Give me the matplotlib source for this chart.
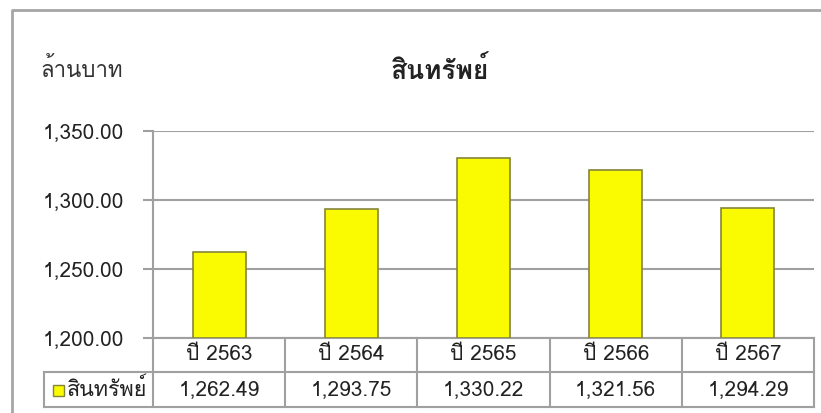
import matplotlib
matplotlib.use('Agg')
import numpy as np
import matplotlib.pyplot as plt
from matplotlib import font_manager, ft2font

# data
years = ['ปี 2563', 'ปี 2564', 'ปี 2565', 'ปี 2566', 'ปี 2567']
assets = [1262.49, 1293.75, 1330.22, 1321.56, 1294.29]
series_name = 'สินทรัพย์'
unit_label = 'ล้านบาท'
y_ticks = [1200, 1250, 1300, 1350]

# pick an installed font that has thai glyphs, if any
thai_family = None
for f in font_manager.fontManager.ttflist:
    try:
        if 0x0E2A in ft2font.FT2Font(f.fname).get_charmap():
            thai_family = f.name
            break
    except Exception:
        pass
fams = [thai_family, 'DejaVu Sans'] if thai_family else ['DejaVu Sans']
plt.rcParams['font.family'] = fams

W, H = 821, 413
GRID = '#A0A0A0'
TXT = '#222222'
fig = plt.figure(figsize=(W / 100, H / 100), dpi=100)

# overlay in pixel coords for the frame and the data table
ov = fig.add_axes([0, 0, 1, 1])
ov.set_xlim(0, W)
ov.set_ylim(H, 0)
ov.axis('off')

# plot area
x0, x1, ytop, ybot = 153, 814, 131, 338
ax = fig.add_axes([x0 / W, (H - ybot) / H, (x1 - x0) / W, (ybot - ytop) / H])
x = np.arange(len(years))
ax.bar(x, np.array(assets) - y_ticks[0], bottom=y_ticks[0], width=0.4,
       color='#FAFA00', edgecolor='#85853A', linewidth=1.2, zorder=3)
ax.set_xlim(-0.5, len(years) - 0.5)
ax.set_ylim(y_ticks[0], y_ticks[-1])
ax.set_yticks(y_ticks)
ax.set_yticklabels([f'{v:,.2f}' for v in y_ticks], fontsize=15, color=TXT)
ax.set_xticks([])
ax.yaxis.grid(True, color=GRID, linewidth=1.5, zorder=0)
for s in ['top', 'right', 'bottom']:
    ax.spines[s].set_visible(False)
ax.spines['left'].set_color(GRID)
ax.spines['left'].set_linewidth(1.5)
ax.tick_params(axis='y', length=7, width=1.5, color=GRID, pad=14)
ax.patch.set_alpha(0)

# outer frame
ov.plot([12, 12, W], [H, 10, 10], color='#A6A6A6', linewidth=2)

# title and unit
ov.text(440, 70, series_name, ha='center', va='center', fontsize=19,
        fontweight='bold', color=TXT)
ov.text(40, 70, unit_label, ha='left', va='center', fontsize=16, color='#333333')

# data table under the plot
col_w = (x1 - x0) / len(years)
r0, r1, r2 = ybot, 372, 407
lx = 44
kw = dict(color=GRID, linewidth=1.5)
ov.plot([x0, x1], [r0, r0], **kw)
ov.plot([lx, x1], [r1, r1], **kw)
ov.plot([lx, x1], [r2, r2], **kw)
ov.plot([lx, lx], [r1, r2], **kw)
for i in range(len(years) + 1):
    cx = x0 + i * col_w
    ov.plot([cx, cx], [r0, r2], **kw)
for i, (yr, v) in enumerate(zip(years, assets)):
    cx = x0 + (i + 0.5) * col_w
    ov.text(cx, (r0 + r1) / 2, yr, ha='center', va='center', fontsize=15, color=TXT)
    ov.text(cx, (r1 + r2) / 2, f'{v:,.2f}', ha='center', va='center', fontsize=15, color=TXT)

# legend key + series name
ov.add_patch(plt.Rectangle((53, 385), 11, 11, facecolor='#FAFA00', edgecolor='#85853A', linewidth=1))
ov.text(67, (r1 + r2) / 2, series_name, ha='left', va='center', fontsize=15.5, color=TXT)

fig.savefig('out.png', dpi=100)
